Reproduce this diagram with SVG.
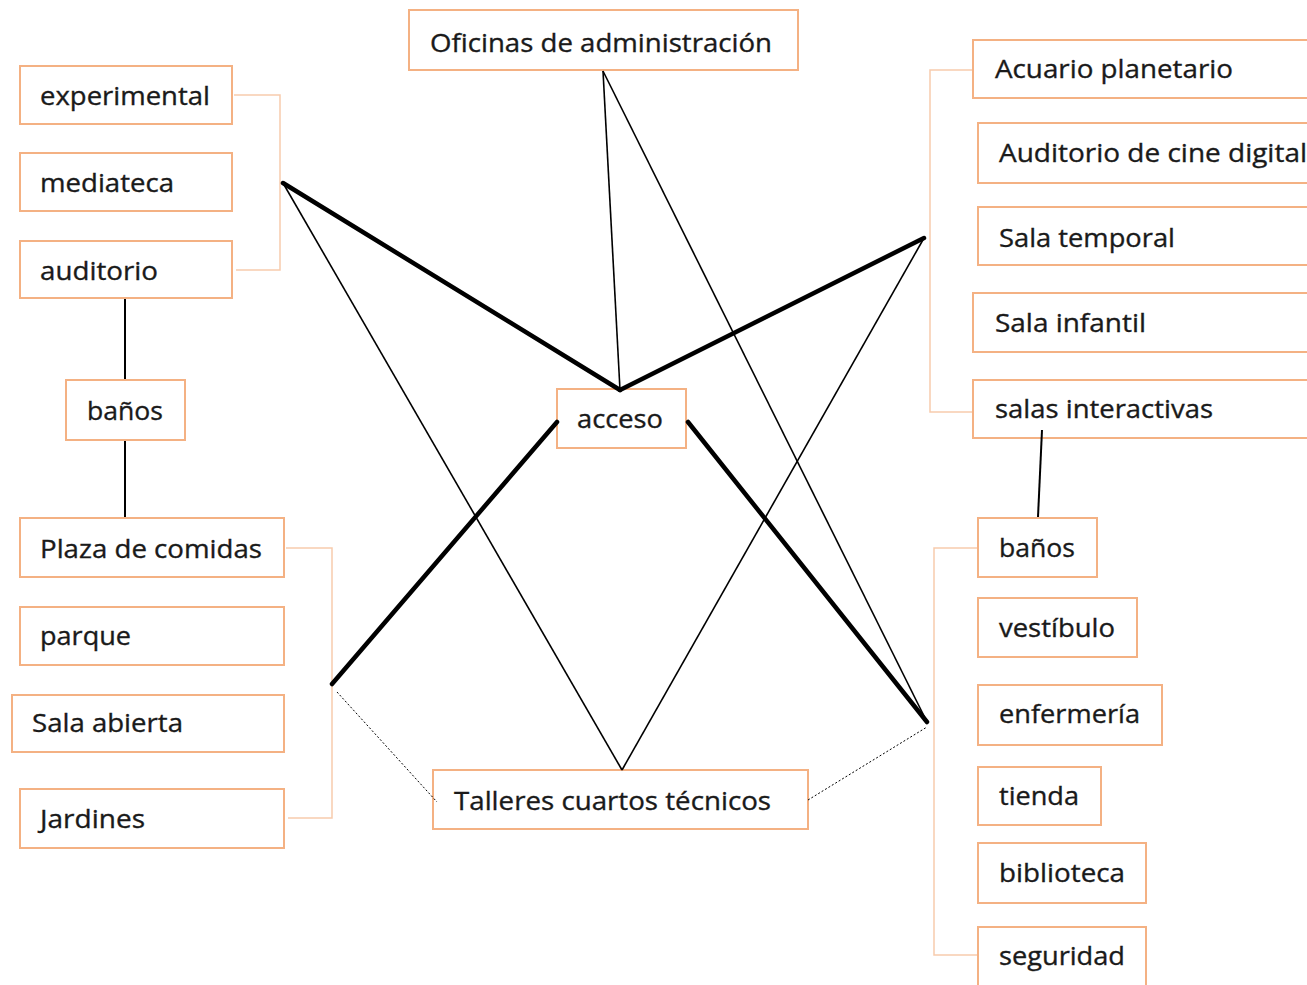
<svg xmlns="http://www.w3.org/2000/svg" width="1307" height="985" viewBox="0 0 1307 985">
<style>
.box{fill:#fff;stroke:#F4B183;stroke-width:2}
.br{fill:none;stroke:#F8CBAD;stroke-width:1.5}
.t{font-family:"Open Sans","Liberation Sans",sans-serif;font-size:26px;fill:#1a1a1a;stroke:#1a1a1a;stroke-width:0.35}
.thick{stroke:#000;stroke-width:4.5;stroke-linecap:round;fill:none}
.thin{stroke:#000;stroke-width:1.6;fill:none}
.dot{stroke:#000;stroke-width:1;stroke-dasharray:2 2;fill:none}
.v{stroke:#000;stroke-width:2;fill:none}
</style>
<rect width="1307" height="985" fill="#fff"/>
<g id="brackets">
<polyline class="br" points="234,95 280,95 280,270 236,270"/>
<polyline class="br" points="286,548 332,548 332,818 288,818"/>
<polyline class="br" points="973,70 930,70 930,412 973,412"/>
<polyline class="br" points="978,548 934,548 934,955 978,955"/>
</g>
<g id="n-oficinas"><rect class="box" x="409" y="10" width="389" height="60"/><text class="t" x="430" y="52" textLength="342" lengthAdjust="spacingAndGlyphs">Oficinas de administración</text></g>
<g id="n-experimental"><rect class="box" x="20" y="66" width="212" height="58"/><text class="t" x="40" y="105" textLength="170" lengthAdjust="spacingAndGlyphs">experimental</text></g>
<g id="n-mediateca"><rect class="box" x="20" y="153" width="212" height="58"/><text class="t" x="40" y="192" textLength="134" lengthAdjust="spacingAndGlyphs">mediateca</text></g>
<g id="n-auditorio"><rect class="box" x="20" y="241" width="212" height="57"/><text class="t" x="40" y="280" textLength="118" lengthAdjust="spacingAndGlyphs">auditorio</text></g>
<g id="n-banos-l"><rect class="box" x="66" y="380" width="119" height="60"/><text class="t" x="87" y="420" textLength="76" lengthAdjust="spacingAndGlyphs">baños</text></g>
<g id="n-plaza"><rect class="box" x="20" y="518" width="264" height="59"/><text class="t" x="40" y="558" textLength="222" lengthAdjust="spacingAndGlyphs">Plaza de comidas</text></g>
<g id="n-parque"><rect class="box" x="20" y="607" width="264" height="58"/><text class="t" x="40" y="645" textLength="91" lengthAdjust="spacingAndGlyphs">parque</text></g>
<g id="n-sala-abierta"><rect class="box" x="12" y="695" width="272" height="57"/><text class="t" x="32" y="732" textLength="151" lengthAdjust="spacingAndGlyphs">Sala abierta</text></g>
<g id="n-jardines"><rect class="box" x="20" y="789" width="264" height="59"/><text class="t" x="40" y="828" textLength="105" lengthAdjust="spacingAndGlyphs">Jardines</text></g>
<g id="n-acceso"><rect class="box" x="557" y="389" width="129" height="59"/><text class="t" x="577" y="428" textLength="86" lengthAdjust="spacingAndGlyphs">acceso</text></g>
<g id="n-talleres"><rect class="box" x="433" y="770" width="375" height="59"/><text class="t" x="454" y="810" textLength="317" lengthAdjust="spacingAndGlyphs">Talleres cuartos técnicos</text></g>
<g id="n-acuario"><rect class="box" x="973" y="40" width="350" height="58"/><text class="t" x="995" y="78" textLength="238" lengthAdjust="spacingAndGlyphs">Acuario planetario</text></g>
<g id="n-cine"><rect class="box" x="978" y="123" width="350" height="60"/><text class="t" x="999" y="162" textLength="308" lengthAdjust="spacingAndGlyphs">Auditorio de cine digital</text></g>
<g id="n-temporal"><rect class="box" x="978" y="207" width="350" height="58"/><text class="t" x="999" y="247" textLength="176" lengthAdjust="spacingAndGlyphs">Sala temporal</text></g>
<g id="n-infantil"><rect class="box" x="973" y="293" width="350" height="59"/><text class="t" x="995" y="332" textLength="151" lengthAdjust="spacingAndGlyphs">Sala infantil</text></g>
<g id="n-interactivas"><rect class="box" x="973" y="380" width="350" height="58"/><text class="t" x="995" y="418" textLength="218" lengthAdjust="spacingAndGlyphs">salas interactivas</text></g>
<g id="n-banos-r"><rect class="box" x="978" y="518" width="119" height="59"/><text class="t" x="999" y="557" textLength="76" lengthAdjust="spacingAndGlyphs">baños</text></g>
<g id="n-vestibulo"><rect class="box" x="978" y="598" width="159" height="59"/><text class="t" x="999" y="637" textLength="116" lengthAdjust="spacingAndGlyphs">vestíbulo</text></g>
<g id="n-enfermeria"><rect class="box" x="978" y="685" width="184" height="60"/><text class="t" x="999" y="723" textLength="141" lengthAdjust="spacingAndGlyphs">enfermería</text></g>
<g id="n-tienda"><rect class="box" x="978" y="767" width="123" height="58"/><text class="t" x="999" y="805" textLength="80" lengthAdjust="spacingAndGlyphs">tienda</text></g>
<g id="n-biblioteca"><rect class="box" x="978" y="843" width="168" height="60"/><text class="t" x="999" y="882" textLength="126" lengthAdjust="spacingAndGlyphs">biblioteca</text></g>
<g id="n-seguridad"><rect class="box" x="978" y="927" width="168" height="65"/><text class="t" x="999" y="965" textLength="126" lengthAdjust="spacingAndGlyphs">seguridad</text></g>
<g id="connectors">
<line class="thick" x1="283" y1="183" x2="620" y2="390"/>
<line class="thick" x1="620" y1="390" x2="924" y2="238"/>
<line class="thick" x1="557" y1="422" x2="332" y2="684"/>
<line class="thick" x1="688" y1="422" x2="927" y2="722"/>
<line class="thin" x1="283" y1="183" x2="622" y2="770"/>
<line class="thin" x1="622" y1="770" x2="924" y2="238"/>
<line class="thin" x1="603" y1="71" x2="620" y2="390"/>
<line class="thin" x1="603" y1="71" x2="927" y2="722"/>
<line class="dot" x1="337" y1="692" x2="437" y2="802"/>
<line class="dot" x1="808" y1="800" x2="927" y2="727"/>
<line class="v" x1="125" y1="299" x2="125" y2="379"/>
<line class="v" x1="125" y1="441" x2="125" y2="517"/>
<line class="v" x1="1042" y1="430" x2="1038" y2="517"/>
</g>
</svg>
